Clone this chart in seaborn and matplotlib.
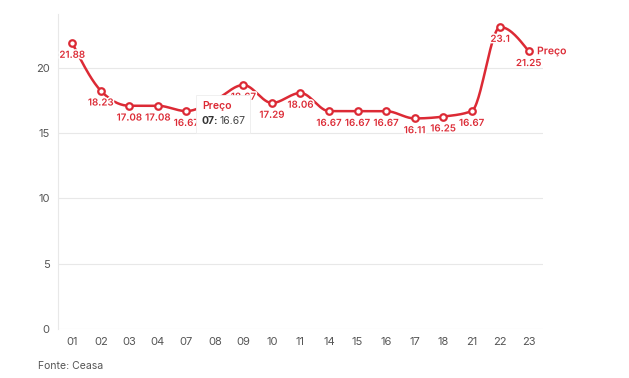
import numpy as np
import pandas as pd
import matplotlib
matplotlib.use("Agg")
import matplotlib.pyplot as plt
import matplotlib.patheffects as pe
import seaborn as sns

# data
dias = ["01", "02", "03", "04", "07", "08", "09", "10", "11",
        "14", "15", "16", "17", "18", "21", "22", "23"]
preco = [21.88, 18.23, 17.08, 17.08, 16.67, 17.5, 18.67, 17.29, 18.06,
         16.67, 16.67, 16.67, 16.11, 16.25, 16.67, 23.1, 21.25]
y_ticks = [0, 5, 10, 15, 20]
serie = "Preço"
fonte = "Fonte: Ceasa"
tip_idx = 4      # point shown in the tooltip
hidden_idx = 5   # label sitting under the tooltip

RED = "#dc2a35"
GRAY = "#555555"
GRID = "#e8e8e8"


def monotone_curve(x, y, n=30):
    """Monotone-X cubic path through the points (as drawn by d3)."""
    x = np.asarray(x, float)
    y = np.asarray(y, float)
    h = np.diff(x)
    s = np.diff(y) / h
    t = np.zeros_like(y)
    for i in range(1, len(y) - 1):
        p = (s[i - 1] * h[i] + s[i] * h[i - 1]) / (h[i - 1] + h[i])
        t[i] = (np.sign(s[i - 1]) + np.sign(s[i])) * min(
            abs(s[i - 1]), abs(s[i]), 0.5 * abs(p))
    t[0] = (3 * s[0] - t[1]) / 2
    t[-1] = (3 * s[-1] - t[-2]) / 2
    xs, ys = [], []
    for i in range(len(h)):
        u = np.linspace(0, 1, n)
        h00 = 2 * u**3 - 3 * u**2 + 1
        h10 = u**3 - 2 * u**2 + u
        h01 = -2 * u**3 + 3 * u**2
        h11 = u**3 - u**2
        xs.append(x[i] + u * h[i])
        ys.append(h00 * y[i] + h10 * h[i] * t[i] + h01 * y[i + 1] + h11 * h[i] * t[i + 1])
    return np.concatenate(xs), np.concatenate(ys)


sns.set_theme(style="white")
plt.rcParams["font.family"] = ["Inter", "DejaVu Sans"]

df = pd.DataFrame({"pos": np.arange(len(dias)), "dia": dias, "preco": preco})
cx, cy = monotone_curve(df["pos"], df["preco"])
curve = pd.DataFrame({"pos": cx, "preco": cy})

fig = plt.figure(figsize=(6.29, 3.78), dpi=100)
ax = fig.add_axes([0.0922, 0.1296, 0.7710, 0.8334])

sns.lineplot(data=curve, x="pos", y="preco", color=RED, linewidth=1.8,
             sort=False, ax=ax, zorder=3)
sns.scatterplot(data=df, x="pos", y="preco", s=22, color="white",
                edgecolor=RED, linewidth=1.6, ax=ax, zorder=4)

halo = [pe.withStroke(linewidth=2.2, foreground="white")]
for i, r in df.iterrows():
    if i == hidden_idx:
        continue
    ax.annotate(f"{r['preco']:g}", (r["pos"], r["preco"]),
                xytext=(0, -8.5), textcoords="offset points",
                ha="center", va="center", fontsize=7, color=RED,
                fontweight="semibold", zorder=5, path_effects=halo)

last = df.iloc[-1]
ax.annotate(serie, (last["pos"], last["preco"]), xytext=(6, 0),
            textcoords="offset points", ha="left", va="center",
            fontsize=7.5, color=RED, fontweight="semibold",
            annotation_clip=False, path_effects=halo)

ax.set_xlim(-0.5, len(dias) - 0.5)
ax.set_ylim(0, 24.1)
ax.set_xticks(df["pos"])
ax.set_xticklabels(dias)
ax.set_yticks(y_ticks)
ax.tick_params(axis="both", labelsize=8, colors=GRAY, length=0, pad=6)
ax.set_xlabel("")
ax.set_ylabel("")
ax.grid(axis="y", color=GRID, linewidth=0.8)
for side in ["top", "right", "bottom"]:
    ax.spines[side].set_visible(False)
ax.spines["left"].set_color(GRID)
ax.spines["left"].set_linewidth(0.8)

# tooltip for the 07 point
tip = df.iloc[tip_idx]
fig.patches.append(plt.Rectangle((197 / 629, 1 - 134 / 378), 54 / 629, 38 / 378,
                                 transform=fig.transFigure, facecolor="#d8d8d8",
                                 edgecolor="none", alpha=0.5, zorder=9))
fig.patches.append(plt.Rectangle((196 / 629, 1 - 133 / 378), 54 / 629, 38 / 378,
                                 transform=fig.transFigure, facecolor="white",
                                 edgecolor="#eeeeee", linewidth=0.6, zorder=10))
fig.text(202 / 629, 1 - 106 / 378, serie, color=RED, fontsize=7.5,
         fontweight="semibold", va="center", ha="left", zorder=11)
fig.text(202 / 629, 1 - 121 / 378, f"{tip['dia']}:", color="#333333",
         fontsize=7.5, fontweight="bold", va="center", ha="left", zorder=11)
fig.text(219 / 629, 1 - 121 / 378, f"{tip['preco']:g}", color="#444444",
         fontsize=7.5, va="center", ha="left", zorder=11)

fig.text(38 / 629, 1 - 366 / 378, fonte, fontsize=7.5, color=GRAY,
         va="center", ha="left")

fig.savefig("out.png", dpi=100, facecolor="white")
